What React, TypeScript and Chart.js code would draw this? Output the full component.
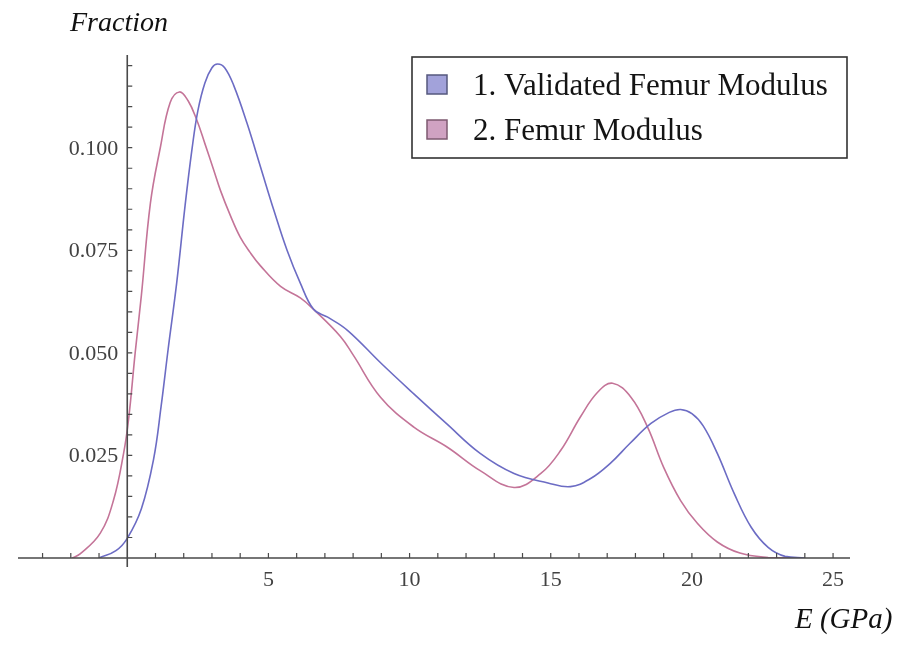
import React, { useEffect, useRef } from 'react';
import { Chart, registerables } from 'chart.js';

Chart.register(...registerables);

// ---- data ----
const seriesLabels = ['1. Validated Femur Modulus', '2. Femur Modulus'];

const validatedX = [-1.0, -0.4, 0, 0.5, 0.93, 1.2, 1.45, 1.75, 2.05, 2.3, 2.5, 2.75, 3.0, 3.2, 3.45, 3.77, 4.24, 4.72, 5.19, 5.66, 6.13, 6.6, 7.1, 7.8, 9.0, 10.15, 11.3, 12.5, 13.7, 14.9, 15.7, 16.4, 17.1, 17.8, 18.55, 19.2, 19.6, 20.0, 20.4, 20.9, 21.5, 22.1, 22.7, 23.3, 24.0];
const validatedY = [0, 0.0018, 0.0048, 0.012, 0.024, 0.037, 0.051, 0.067, 0.086, 0.1, 0.109, 0.1158, 0.1195, 0.1204, 0.1195, 0.1152, 0.106, 0.0953, 0.0848, 0.075, 0.067, 0.0606, 0.0587, 0.0555, 0.0474, 0.04, 0.0328, 0.0255, 0.0206, 0.0183, 0.0174, 0.0193, 0.023, 0.0279, 0.0328, 0.0355, 0.0362, 0.0352, 0.0322, 0.0255, 0.0157, 0.0075, 0.0026, 0.0004, 0];

const femurX = [-1.95, -1.67, -0.96, -0.49, -0.13, 0.05, 0.28, 0.5, 0.82, 1.17, 1.52, 1.85, 2.15, 2.45, 2.75, 3.05, 3.3, 3.65, 4.0, 4.35, 4.72, 5.43, 6.13, 6.6, 7.55, 8.0, 8.97, 10.15, 11.34, 12.5, 13.7, 14.65, 15.35, 16.06, 16.66, 17.19, 17.84, 18.43, 19.0, 19.6, 20.2, 20.9, 21.7, 22.7, 23.5];
const femurY = [0, 0.001, 0.006, 0.014, 0.0255, 0.034, 0.05, 0.064, 0.0865, 0.1, 0.111, 0.1136, 0.1115, 0.107, 0.101, 0.0948, 0.0896, 0.0835, 0.0782, 0.0745, 0.0712, 0.0662, 0.0634, 0.0606, 0.054, 0.0495, 0.0392, 0.0319, 0.027, 0.0213, 0.0172, 0.0206, 0.0262, 0.0345, 0.0404, 0.0426, 0.0392, 0.0319, 0.0221, 0.014, 0.0084, 0.0039, 0.0012, 0.0001, 0];

const xTickLabels = [5, 10, 15, 20, 25];
const yTickLabels = ['0.025', '0.050', '0.075', '0.100'];
const xAxisTitle = 'E (GPa)';
const yAxisTitle = 'Fraction';

const lineColors = ['rgb(108,108,196)', 'rgb(196,116,152)'];
const swatchFill = ['#a2a2da', '#d0a2c2'];
const swatchBorder = ['#55587e', '#7e5a70'];

const X_MIN = -3.87;
const X_MAX = 25.6;
const Y_MIN = 0;
const Y_MAX = 0.1226;

const mathAxesPlugin = {
  id: 'mathAxes',
  afterDatasetsDraw(chart: any) {
    const ctx = chart.ctx as CanvasRenderingContext2D;
    const xs = chart.scales.x;
    const ys = chart.scales.y;
    const area = chart.chartArea;
    const x0 = xs.getPixelForValue(0);
    const y0 = ys.getPixelForValue(0);
    ctx.save();
    ctx.strokeStyle = '#4a4a4a';
    ctx.lineWidth = 1.6;
    // axis lines
    ctx.beginPath();
    ctx.moveTo(area.left, y0);
    ctx.lineTo(area.right, y0);
    ctx.moveTo(x0, area.top);
    ctx.lineTo(x0, y0 + 9);
    ctx.stroke();
    // x ticks (every unit, pointing up)
    ctx.lineWidth = 1.2;
    ctx.beginPath();
    for (let v = Math.ceil(X_MIN); v <= Math.floor(X_MAX); v++) {
      if (v === 0) continue;
      const px = xs.getPixelForValue(v);
      ctx.moveTo(px, y0);
      ctx.lineTo(px, y0 - 5);
    }
    // y ticks (every 0.005, pointing right)
    for (let k = 1; k * 0.005 <= Y_MAX; k++) {
      const py = ys.getPixelForValue(k * 0.005);
      ctx.moveTo(x0, py);
      ctx.lineTo(x0 + 5, py);
    }
    ctx.stroke();

    // tick labels
    ctx.fillStyle = '#424242';
    ctx.font = '22px "Liberation Serif", "Times New Roman", serif';
    ctx.textAlign = 'center';
    ctx.textBaseline = 'alphabetic';
    xTickLabels.forEach((v) => {
      ctx.fillText(String(v), xs.getPixelForValue(v), y0 + 28);
    });
    ctx.textAlign = 'right';
    ctx.textBaseline = 'middle';
    yTickLabels.forEach((s) => {
      ctx.fillText(s, x0 - 9, ys.getPixelForValue(parseFloat(s)) + 1);
    });

    // axis titles
    ctx.fillStyle = '#111';
    ctx.font = 'italic 28px "Liberation Serif", "Times New Roman", serif';
    ctx.textAlign = 'left';
    ctx.textBaseline = 'alphabetic';
    ctx.fillText(yAxisTitle, 70, 31);
    ctx.font = 'italic 29px "Liberation Serif", "Times New Roman", serif';
    ctx.fillText(xAxisTitle, 795, 628);

    // legend box
    ctx.fillStyle = '#ffffff';
    ctx.fillRect(412, 57, 435, 101);
    ctx.strokeStyle = '#333';
    ctx.lineWidth = 1.6;
    ctx.strokeRect(412, 57, 435, 101);
    const rowBase = [95, 140];
    seriesLabels.forEach((label, i) => {
      ctx.fillStyle = swatchFill[i];
      ctx.fillRect(427, rowBase[i] - 20, 20, 19);
      ctx.strokeStyle = swatchBorder[i];
      ctx.lineWidth = 1.5;
      ctx.strokeRect(427, rowBase[i] - 20, 20, 19);
      ctx.fillStyle = '#141414';
      ctx.font = '31px "Liberation Serif", "Times New Roman", serif';
      ctx.textAlign = 'left';
      ctx.textBaseline = 'alphabetic';
      ctx.fillText(label, 473, rowBase[i]);
    });
    ctx.restore();
  },
};

export default function App() {
  const canvasRef = useRef<HTMLCanvasElement | null>(null);

  useEffect(() => {
    const canvas = canvasRef.current;
    if (!canvas) return;
    const chart = new Chart(canvas, {
      type: 'line',
      data: {
        datasets: [
          {
            label: seriesLabels[0],
            data: validatedX.map((x, i) => ({ x, y: validatedY[i] })),
            borderColor: lineColors[0],
            borderWidth: 1.6,
            pointRadius: 0,
            fill: false,
            tension: 0.4,
          },
          {
            label: seriesLabels[1],
            data: femurX.map((x, i) => ({ x, y: femurY[i] })),
            borderColor: lineColors[1],
            borderWidth: 1.6,
            pointRadius: 0,
            fill: false,
            tension: 0.4,
          },
        ],
      },
      options: {
        animation: false,
        responsive: true,
        maintainAspectRatio: false,
        layout: { padding: { left: 18, right: 53, top: 55, bottom: 92 } },
        plugins: {
          legend: { display: false },
          tooltip: { enabled: false },
          title: { display: false },
        },
        scales: {
          x: { type: 'linear', min: X_MIN, max: X_MAX, display: false },
          y: { type: 'linear', min: Y_MIN, max: Y_MAX, display: false },
        },
      },
      plugins: [mathAxesPlugin],
    } as any);
    return () => chart.destroy();
  }, []);

  return (
    <div style={{ position: 'fixed', left: 0, top: 0, width: 903, height: 650, background: '#fff' }}>
      <canvas ref={canvasRef} />
    </div>
  );
}
